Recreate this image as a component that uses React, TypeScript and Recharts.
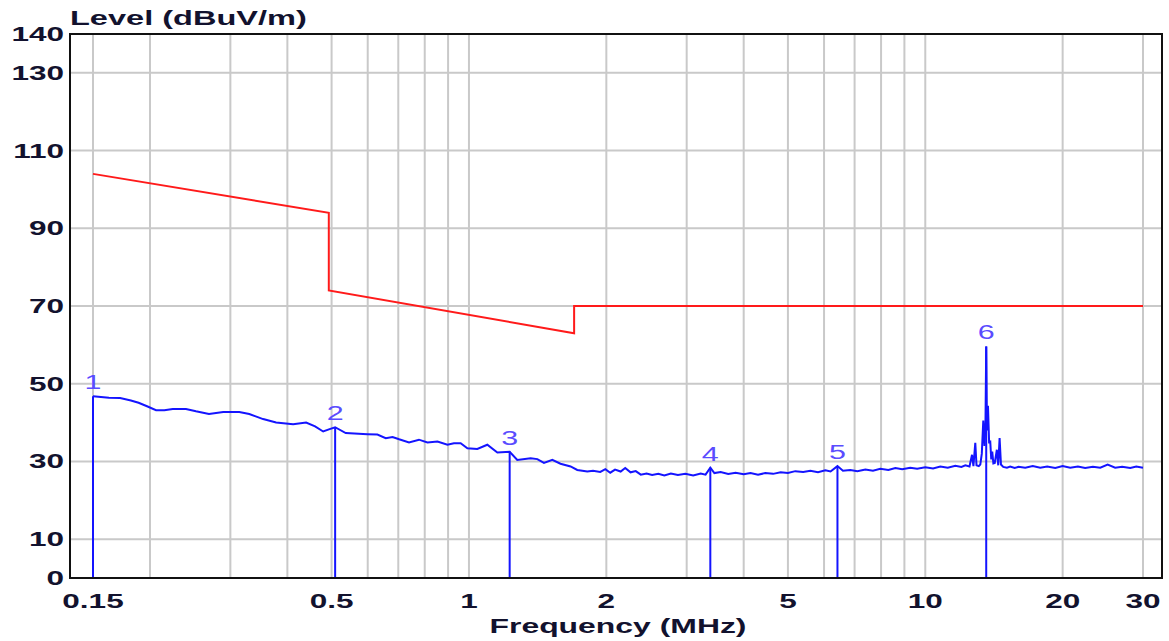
import React from "react"
import { ComposedChart, Line, Scatter, XAxis, YAxis, ReferenceLine } from "recharts"

const traceFreq = [
  0.15, 0.1625, 0.172, 0.1816, 0.1888, 0.197, 0.2062, 0.215, 0.2243, 0.2398,
  0.2522, 0.2693, 0.2894, 0.3138, 0.33, 0.3539, 0.3779, 0.4118, 0.4397, 0.46,
  0.4792, 0.495, 0.509, 0.537, 0.599, 0.63, 0.657, 0.68, 0.703, 0.739,
  0.777, 0.811, 0.853, 0.897, 0.927, 0.959, 0.992, 1.043, 1.097, 1.154,
  1.228, 1.276, 1.365, 1.412, 1.46, 1.523, 1.587, 1.67, 1.727, 1.817,
  1.87, 1.94, 1.99, 2.04, 2.09, 2.15, 2.2, 2.26, 2.32, 2.38,
  2.45, 2.52, 2.6, 2.68, 2.77, 2.87, 2.98, 3.1, 3.22, 3.3,
  3.38, 3.45, 3.56, 3.7, 3.84, 4.0, 4.14, 4.3, 4.46, 4.64,
  4.82, 5.0, 5.19, 5.4, 5.6, 5.82, 6.04, 6.2, 6.42, 6.6,
  6.85, 7.1, 7.39, 7.68, 7.97, 8.3, 8.6, 8.9, 9.27, 9.6,
  10.0, 10.4, 10.79, 11.2, 11.64, 12.0, 12.24, 12.5, 12.66, 12.75,
  12.87, 12.95, 13.1, 13.2, 13.3, 13.4, 13.48, 13.55, 13.6, 13.65,
  13.72, 13.8, 13.88, 13.95, 14.02, 14.1, 14.2, 14.35, 14.45, 14.55,
  14.65, 14.82, 15.1, 15.35, 15.7, 16.0, 16.56, 17.2, 17.86, 18.5,
  19.27, 20.0, 20.78, 21.6, 22.41, 23.3, 24.18, 25.1, 26.07, 27.0,
  28.13, 29.0, 30,
]
const traceLevel = [
  46.8, 46.4, 46.3, 45.7, 45.1, 44.2, 43.2, 43.2, 43.5, 43.5,
  42.9, 42.2, 42.7, 42.7, 42.2, 40.9, 40.0, 39.6, 40.0, 39.0,
  37.7, 38.3, 38.8, 37.3, 37.0, 36.9, 36.0, 36.3, 35.7, 34.9,
  35.6, 34.9, 35.1, 34.3, 34.7, 34.7, 33.4, 33.2, 34.3, 32.3,
  32.5, 30.4, 30.8, 30.6, 29.6, 30.4, 29.4, 28.7, 27.8, 27.4,
  27.6, 27.3, 28.0, 27.1, 27.9, 27.4, 28.3, 27.2, 27.5, 26.6,
  26.9, 26.5, 26.8, 26.4, 26.9, 26.5, 26.8, 26.4, 26.9, 26.6,
  28.4, 27.0, 27.3, 26.8, 27.1, 26.7, 27.0, 26.6, 27.0, 26.8,
  27.2, 27.0, 27.5, 27.3, 27.6, 27.2, 27.7, 27.4, 28.8, 27.6,
  27.8, 27.5, 27.9, 27.6, 28.1, 27.8, 28.3, 28.0, 28.4, 28.1,
  28.5, 28.2, 28.7, 28.4, 28.9, 28.6, 29.0, 28.7, 31.7, 28.8,
  34.8, 29.0, 28.8, 29.2, 32.0, 40.5, 34.0, 40.0, 59.6, 38.0,
  44.3, 35.0, 35.1, 30.5, 32.5, 29.5, 29.6, 33.0, 29.0, 36.0,
  29.2, 28.6, 28.4, 28.7, 28.3, 28.6, 28.4, 28.8, 28.4, 28.7,
  28.3, 28.8, 28.4, 28.7, 28.3, 28.6, 28.4, 29.2, 28.4, 28.6,
  28.3, 28.7, 28.4,
]

// limit line
const limitFreq = [0.15, 0.493, 0.493, 1.7, 1.7, 30]
const limitLevel = [104, 94, 74, 63, 70, 70]

// peak markers
const markerFreq = [0.15, 0.509, 1.228, 3.38, 6.42, 13.6]
const markerLevel = [46.8, 38.8, 32.5, 28.4, 28.8, 59.6]
const markerNames = ["1", "2", "3", "4", "5", "6"]

const xTicks = [0.15, 0.5, 1, 2, 5, 10, 20, 30]
const yTicks = [0, 10, 30, 50, 70, 90, 110, 130, 140]
const gridFreqs = [0.15, 0.2, 0.3, 0.4, 0.5, 0.6, 0.7, 0.8, 0.9, 1, 2, 3, 4, 5, 6, 7, 8, 9, 10, 20, 30]
const gridLevels = [10, 30, 50, 70, 90, 110, 130]

const traceData = traceFreq.map((f, i) => ({ freq: f, level: traceLevel[i] }))
const limitData = limitFreq.map((f, i) => ({ freq: f, level: limitLevel[i] }))
const markerData = markerFreq.map((f, i) => ({ freq: f, level: markerLevel[i], name: markerNames[i] }))

const FONT = "'Liberation Sans', Arial, sans-serif"
const TEXT = "#12122e"
const BLUE = "#1414ff"
const GRID = "#c9c9c9"

// the original image is stretched sideways, so text gets a horizontal scale
function XTick({ x, y, payload }: any) {
  return (
    <g transform={`translate(${x},${y})`}>
      <text transform="scale(1.5,1)" textAnchor="middle" dy={30} fontFamily={FONT} fontWeight="bold" fontSize={21} fill={TEXT}>
        {payload.value}
      </text>
    </g>
  )
}

function YTick({ x, y, payload }: any) {
  return (
    <g transform={`translate(${x},${y})`}>
      <text transform="scale(1.5,1)" textAnchor="end" dy={7} fontFamily={FONT} fontWeight="bold" fontSize={21} fill={TEXT}>
        {payload.value}
      </text>
    </g>
  )
}

function MarkerLabel({ cx, cy, payload }: any) {
  return (
    <g transform={`translate(${cx},${cy - 7})`}>
      <text transform="scale(1.45,1)" textAnchor="middle" fontFamily={FONT} fontSize={21} fill="#5a4cff">
        {payload.name}
      </text>
    </g>
  )
}

export default function App() {
  return (
    <div style={{ position: "absolute", left: 0, top: 0, width: 1169, height: 641, background: "#fff" }}>
      <ComposedChart width={1169} height={641} margin={{ top: 34, right: 7, bottom: 0, left: 8 }}>
        <XAxis
          dataKey="freq"
          type="number"
          scale="log"
          domain={[0.15, 30]}
          padding={{ left: 23, right: 19 }}
          ticks={xTicks}
          tick={<XTick />}
          tickLine={false}
          tickSize={0}
          tickMargin={0}
          height={63}
          axisLine={{ stroke: "#000", strokeWidth: 2 }}
        />
        <YAxis
          type="number"
          domain={[0, 140]}
          ticks={yTicks}
          tick={<YTick />}
          tickLine={false}
          tickSize={0}
          tickMargin={6}
          width={62}
          axisLine={{ stroke: "#000", strokeWidth: 2 }}
        />
        {gridFreqs.map((f) => (
          <ReferenceLine key={`gx${f}`} x={f} stroke={GRID} strokeWidth={2} />
        ))}
        {gridLevels.map((v) => (
          <ReferenceLine key={`gy${v}`} y={v} stroke={GRID} strokeWidth={2} />
        ))}
        <Line
          data={limitData}
          dataKey="level"
          type="linear"
          stroke="#ff1a1a"
          strokeWidth={2}
          dot={false}
          activeDot={false}
          isAnimationActive={false}
        />
        <Line
          data={traceData}
          dataKey="level"
          type="linear"
          stroke={BLUE}
          strokeWidth={2}
          dot={false}
          activeDot={false}
          isAnimationActive={false}
        />
        {markerData.map((m) => (
          <ReferenceLine
            key={`m${m.name}`}
            segment={[{ x: m.freq, y: 0 }, { x: m.freq, y: m.level }]}
            stroke={BLUE}
            strokeWidth={2}
          />
        ))}
        <Scatter data={markerData} dataKey="level" shape={<MarkerLabel />} isAnimationActive={false} />
      </ComposedChart>
      {/* plot frame */}
      <div
        style={{
          position: "absolute",
          left: 69,
          top: 33,
          width: 1094,
          height: 546,
          border: "2px solid #111",
          boxSizing: "border-box",
          pointerEvents: "none",
        }}
      />
      <svg width={1169} height={641} style={{ position: "absolute", left: 0, top: 0, pointerEvents: "none" }}>
        <text transform="translate(70,25) scale(1.55,1)" fontFamily={FONT} fontWeight="bold" fontSize={21} fill={TEXT}>
          Level (dBuV/m)
        </text>
        <text transform="translate(618,633) scale(1.52,1)" textAnchor="middle" fontFamily={FONT} fontWeight="bold" fontSize={21} fill={TEXT}>
          Frequency (MHz)
        </text>
      </svg>
    </div>
  )
}
